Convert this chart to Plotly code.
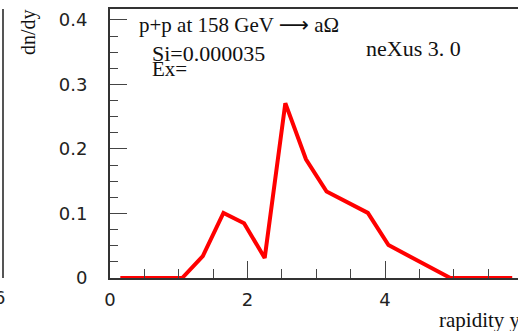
import plotly.graph_objects as go

# rapidity bins and dn/dy values
rapidity = [0.15, 0.45, 0.75, 1.05, 1.35, 1.65, 1.95, 2.25, 2.55, 2.85,
            3.15, 3.45, 3.75, 4.05, 4.35, 4.65, 4.95, 5.25, 5.55, 5.85]
dndy = [0.0, 0.0, 0.0, 0.0, 0.034, 0.101, 0.085, 0.031, 0.271, 0.184,
        0.134, 0.118, 0.101, 0.051, 0.034, 0.017, 0.0, 0.0, 0.0, 0.0]

x_range = [0, 5.934]
y_range = [0, 0.417]
x_ticks = [0, 2, 4, 6]
y_ticks = [0, 0.1, 0.2, 0.3, 0.4]
y_ticklabels = ["0", "0.1", "0.2", "0.3", "0.4"]

serif = "Liberation Serif"
sans = "DejaVu Sans"

fig = go.Figure()
fig.add_trace(go.Scatter(x=rapidity, y=dndy, mode="lines",
                         line=dict(color="#ff0000", width=4),
                         showlegend=False, hoverinfo="skip"))

fig.update_layout(
    width=518, height=331,
    margin=dict(l=110, r=0, t=9, b=53, autoexpand=False),
    paper_bgcolor="white", plot_bgcolor="white",
    xaxis=dict(range=x_range, tickvals=x_ticks, ticktext=[str(v) for v in x_ticks],
               ticks="inside", ticklen=17, tickwidth=1.2, tickcolor="#444",
               minor=dict(dtick=0.5, tick0=0, ticks="inside", ticklen=9,
                          tickwidth=1.2, tickcolor="#444"),
               showline=True, linecolor="#333", linewidth=2, mirror=True,
               showgrid=False, zeroline=False, automargin=False,
               tickfont=dict(family=sans, size=18, color="#222"),
               ticklabelstandoff=4),
    yaxis=dict(range=y_range, tickvals=y_ticks, ticktext=y_ticklabels,
               ticks="inside", ticklen=17, tickwidth=1.2, tickcolor="#444",
               minor=dict(dtick=0.025, tick0=0, ticks="inside", ticklen=8,
                          tickwidth=1.2, tickcolor="#444"),
               showline=True, linecolor="#333", linewidth=2,
               showgrid=False, zeroline=False, automargin=False,
               tickfont=dict(family=sans, size=18, color="#222"),
               ticklabelstandoff=17),
)

arrow = "<span style='font-family:DejaVu Sans'>\u27f6</span>"
ann = [
    dict(text="p+p at 158 GeV " + arrow + " a\u03a9", x=(137 - 110) / 408, y=(278 - 25) / 269,
         xanchor="left", yanchor="middle", font=dict(family=serif, size=21)),
    dict(text="Si=0.000035", x=(150 - 110) / 408, y=(278 - 54) / 269,
         xanchor="left", yanchor="middle", font=dict(family=serif, size=22)),
    dict(text="Ex=", x=(150 - 110) / 408, y=(278 - 69) / 269,
         xanchor="left", yanchor="middle", font=dict(family=serif, size=21)),
    dict(text="neXus 3. 0", x=(364 - 110) / 408, y=(278 - 48) / 269,
         xanchor="left", yanchor="middle", font=dict(family=serif, size=22)),
    dict(text="rapidity y", x=(437 - 110) / 408, y=(278 - 320) / 269,
         xanchor="left", yanchor="middle", font=dict(family=serif, size=21)),
    dict(text="dn/dy", x=(28 - 110) / 408, y=(278 - 32) / 269, textangle=-90,
         xanchor="center", yanchor="middle", font=dict(family=serif, size=20)),
    dict(text="6", x=(-1 - 110) / 408, y=(278 - 297) / 269,
         xanchor="center", yanchor="middle", font=dict(family=sans, size=18, color="#222")),
    dict(text="6", x=(524 - 110) / 408, y=(278 - 297) / 269,
         xanchor="center", yanchor="middle", font=dict(family=sans, size=18, color="#222")),
]
for a in ann:
    a.update(xref="paper", yref="paper", showarrow=False)
    a["font"].setdefault("color", "#111")
fig.update_layout(annotations=ann)

# edge of the neighbouring panel on the left
fig.add_shape(type="line", xref="paper", yref="paper",
              x0=(3 - 110) / 408, x1=(3 - 110) / 408, y0=0, y1=1,
              line=dict(color="#555", width=2))

fig.write_html("out.html",
               config={"displayModeBar": False},
               post_script="document.body.style.margin='0';"
                           "document.body.style.overflow='hidden';")
